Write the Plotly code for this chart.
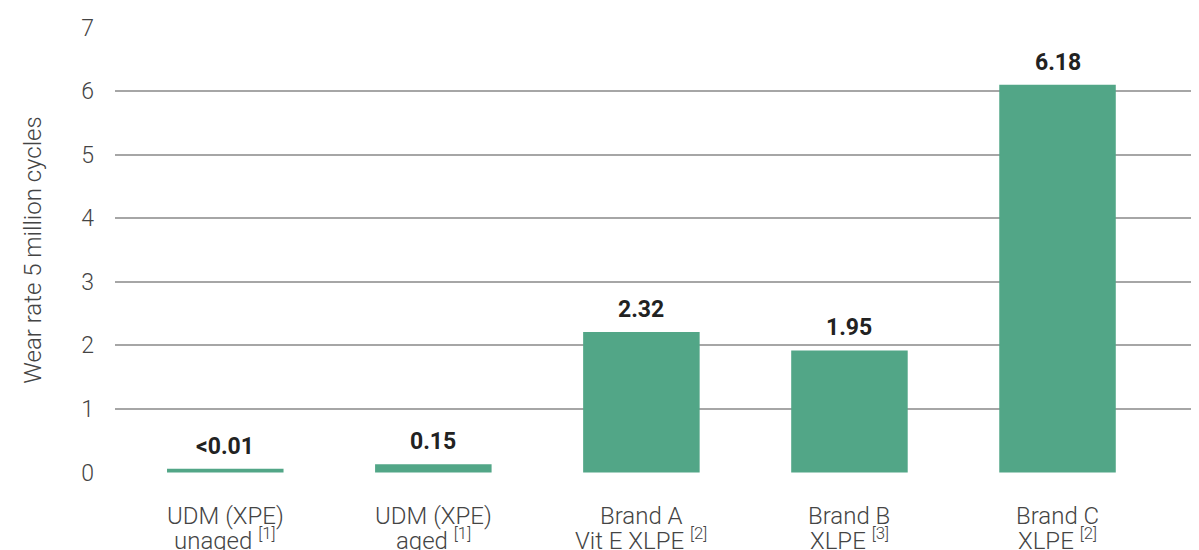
import plotly.graph_objects as go

cat_line1 = ["UDM (XPE)", "UDM (XPE)", "Brand A", "Brand B", "Brand C"]
cat_line2 = ["unaged", "aged", "Vit E XLPE", "XLPE", "XLPE"]
cat_refs = ["[1]", "[1]", "[2]", "[3]", "[2]"]
bar_heights = [0.06, 0.13, 2.21, 1.92, 6.10]
value_labels = ["<0.01", "0.15", "2.32", "1.95", "6.18"]
y_ticks = [0, 1, 2, 3, 4, 5, 6, 7]

xpos = list(range(len(cat_line1)))
FONT = "Roboto"
TXT = "#444444"

fig = go.Figure()
fig.add_trace(go.Bar(
    x=xpos, y=bar_heights, width=0.56,
    marker=dict(color="#52a687", line=dict(width=0)),
    hoverinfo="skip",
))

for xi, h, lab in zip(xpos, bar_heights, value_labels):
    fig.add_annotation(
        x=xi, y=h, text="<b>" + lab + "</b>", showarrow=False,
        yanchor="bottom", yshift=7,
        font=dict(family=FONT, size=23, color="#222222"),
    )

# category labels (two tight lines each, as in the reference)
for xi, l1, l2, rf in zip(xpos, cat_line1, cat_line2, cat_refs):
    fig.add_annotation(
        x=xi, y=0, text=l1, showarrow=False, yanchor="middle", yshift=-44,
        font=dict(family=FONT, size=24, color=TXT, weight=300),
    )
    fig.add_annotation(
        x=xi, y=0, text=l2 + " <sup>" + rf + "</sup>", showarrow=False,
        yanchor="middle", yshift=-67,
        font=dict(family=FONT, size=24, color=TXT, weight=300),
    )

# the page body adds an 8px offset; width/height/margins compensate for it
fig.update_layout(
    width=1191, height=542,
    margin=dict(l=107, r=0, t=19, b=77),
    paper_bgcolor="white", plot_bgcolor="white",
    showlegend=False,
    font=dict(family=FONT, color=TXT),
    xaxis=dict(
        range=[-0.53, 4.68],
        tickvals=xpos, showticklabels=False,
        showgrid=False, zeroline=False, showline=False,
        ticks="", automargin=False,
    ),
    yaxis=dict(
        range=[-0.008, 7.008], tickvals=y_ticks,
        tickfont=dict(family=FONT, size=23, color=TXT, weight=300),
        showgrid=True, gridcolor="#a6a6a6", gridwidth=1.5,
        zeroline=False, showline=False, ticks="", ticklabelstandoff=20,
        automargin=False,
        title=dict(text="Wear rate 5 million cycles", standoff=32,
                   font=dict(family=FONT, size=24, color=TXT, weight=300)),
    ),
)

fig.write_html("out.html")
